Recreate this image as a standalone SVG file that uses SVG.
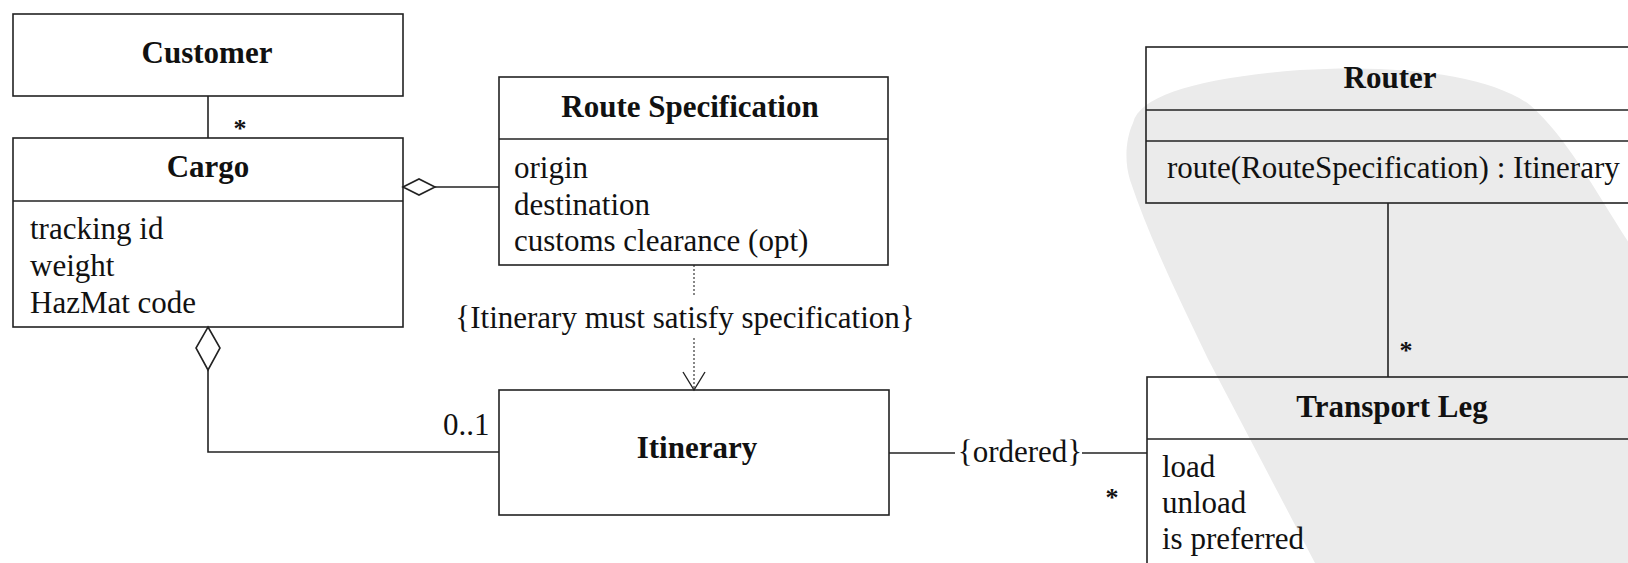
<svg xmlns="http://www.w3.org/2000/svg" width="1628" height="563" viewBox="0 0 1628 563">
<style>
.box{fill:none;stroke:#222;stroke-width:1.6}
.ln{fill:none;stroke:#222;stroke-width:1.6}
.dot{fill:none;stroke:#555;stroke-width:1.4;stroke-dasharray:2 2}
.t{font-family:"Liberation Serif","Times New Roman",serif;font-size:31px;fill:#111}
.b{font-weight:bold;text-anchor:middle}
.star{font-family:"Liberation Serif","Times New Roman",serif;font-size:26px;font-weight:bold;fill:#111;text-anchor:middle}
.dia{fill:#fff;stroke:#222;stroke-width:1.6}
</style>
<rect width="1628" height="563" fill="#fff"/>
<path d="M1133,123 C1140,95 1200,78 1300,70 C1400,64 1490,75 1530,105 C1570,140 1600,200 1640,260 L1640,563 L1315,563 L1208,359 C1180,300 1150,240 1130,180 C1124,160 1126,138 1133,123 Z" fill="#ebebeb"/>
<g id="connectors">
  <line class="ln" x1="208" y1="96" x2="208" y2="138"/>
  <text class="star" x="240" y="137">*</text>
  <line class="ln" x1="435" y1="187" x2="499" y2="187"/>
  <polygon class="dia" points="403,187 419,179 435,187 419,195"/>
  <polyline class="ln" points="208,370 208,452 499,452"/>
  <polygon class="dia" points="208,327 220,348 208,370 196,348"/>
  <text class="t" x="443" y="435">0..1</text>
  <line class="dot" x1="694" y1="265" x2="694" y2="297"/>
  <line class="dot" x1="694" y1="338" x2="694" y2="389"/>
  <polyline class="ln" points="683,372 694,390 705,372" style="stroke-width:1.4"/>
  <text class="t" x="685" y="328" text-anchor="middle">{Itinerary must satisfy specification}</text>
  <line class="ln" x1="889" y1="453" x2="955" y2="453"/>
  <line class="ln" x1="1082" y1="453" x2="1147" y2="453"/>
  <text class="t" x="1020" y="462" text-anchor="middle">{ordered}</text>
  <text class="star" x="1112" y="506">*</text>
  <line class="ln" x1="1388" y1="203" x2="1388" y2="377"/>
  <text class="star" x="1406" y="359">*</text>
</g>
<g id="customer">
  <rect class="box" x="13" y="14" width="390" height="82"/>
  <text class="t b" x="207" y="63">Customer</text>
</g>
<g id="cargo">
  <rect class="box" x="13" y="138" width="390" height="189"/>
  <line class="ln" x1="13" y1="201" x2="403" y2="201"/>
  <text class="t b" x="208" y="177">Cargo</text>
  <text class="t" x="30" y="239">tracking id</text>
  <text class="t" x="30" y="276">weight</text>
  <text class="t" x="30" y="313">HazMat code</text>
</g>
<g id="route-specification">
  <rect class="box" x="499" y="77" width="389" height="188"/>
  <line class="ln" x1="499" y1="139" x2="888" y2="139"/>
  <text class="t b" x="690" y="117">Route Specification</text>
  <text class="t" x="514" y="178">origin</text>
  <text class="t" x="514" y="215">destination</text>
  <text class="t" x="514" y="251">customs clearance (opt)</text>
</g>
<g id="itinerary">
  <rect class="box" x="499" y="390" width="390" height="125"/>
  <text class="t b" x="697" y="458">Itinerary</text>
</g>
<g id="router">
  <rect class="box" x="1146" y="47" width="500" height="156"/>
  <line class="ln" x1="1146" y1="110" x2="1628" y2="110"/>
  <line class="ln" x1="1146" y1="141" x2="1628" y2="141"/>
  <text class="t b" x="1390" y="88">Router</text>
  <text class="t" x="1167" y="178">route(RouteSpecification) : Itinerary</text>
</g>
<g id="transport-leg">
  <rect class="box" x="1147" y="377" width="500" height="220"/>
  <line class="ln" x1="1147" y1="439" x2="1628" y2="439"/>
  <text class="t b" x="1392" y="417">Transport Leg</text>
  <text class="t" x="1162" y="477">load</text>
  <text class="t" x="1162" y="513">unload</text>
  <text class="t" x="1162" y="549">is preferred</text>
</g>
</svg>
